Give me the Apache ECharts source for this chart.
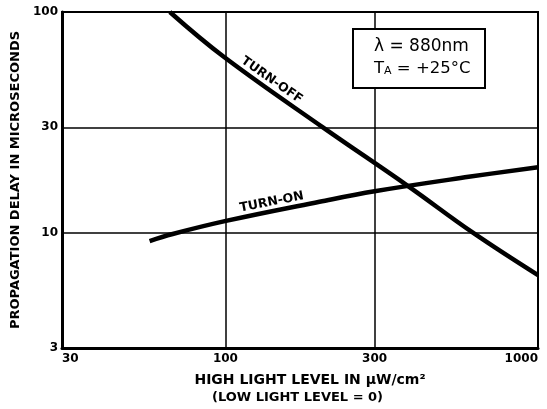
<!DOCTYPE html>
<html>
<head>
<meta charset="utf-8">
<script src="https://cdn.jsdelivr.net/npm/echarts@6/dist/echarts.min.js"></script>
<style>
html,body{margin:0;padding:0;background:#fff;}
#chart{width:547px;height:409px;}
</style>
</head>
<body>
<div id="chart"></div>
<script>
// Data (log-log axes)
const xTicks = [30, 100, 300, 1000];
const yTicks = [3, 10, 30, 100];
const turnOffX = [66.4, 99, 205, 383, 619, 1000];
const turnOffY = [100, 62.5, 30, 16.3, 10, 6.42];
const turnOnX = [57.2, 67.8, 100.4, 200, 300, 600, 1000];
const turnOnY = [9.16, 9.86, 11.3, 13.8, 15.4, 17.9, 19.8];
const curveLabels = [
  {name: 'TURN-OFF', x: 140.6, y: 49.1, rotate: -35},
  {name: 'TURN-ON', x: 140.6, y: 13.75, rotate: 11}
];
const xTitle = 'HIGH LIGHT LEVEL IN \u03BCW/cm\u00B2';
const xSubTitle = '(LOW LIGHT LEVEL = 0)';
const yTitle = 'PROPAGATION DELAY IN MICROSECONDS';
const boxLines = ['\u03BB = 880nm', 'T', 'A', ' = +25\u00B0C'];

const FONT = '"DejaVu Sans", "Liberation Sans", sans-serif';
const zip = (xs, ys) => xs.map((x, i) => [x, ys[i]]);

const chart = echarts.init(document.getElementById('chart'), null, {renderer: 'canvas'});

const labelStyle = {color: '#000', fontFamily: FONT, fontWeight: 'bold', fontSize: 12};

function curveLabel(c) {
  return {
    symbol: 'circle', symbolSize: 0, silent: true,
    data: [{coord: [c.x, c.y], value: c.name,
      label: {show: true, position: 'inside', formatter: c.name, rotate: c.rotate,
        color: '#000', fontFamily: FONT, fontWeight: 'bold', fontSize: 12.5}}]
  };
}

chart.setOption({
  backgroundColor: '#fff',
  animation: false,
  grid: {left: 62, right: 9, top: 12, bottom: 61, show: true, borderColor: '#000', borderWidth: 2, containLabel: false, outerBoundsMode: 'none'},
  xAxis: {
    type: 'log', logBase: 10, min: 30, max: 1000,
    axisLine: {show: true, lineStyle: {color: '#000', width: 3}},
    axisTick: {show: false, customValues: xTicks},
    axisLabel: Object.assign({customValues: xTicks, margin: 5, alignMinLabel: 'left', alignMaxLabel: 'right',
      formatter: v => String(Math.round(v))}, labelStyle),
    splitLine: {show: true, lineStyle: {color: '#000', width: 1.5}},
    name: '{a|' + xTitle + '}\n{b|' + xSubTitle + '}',
    nameLocation: 'middle', nameGap: 24,
    nameTextStyle: {
      color: '#000', fontFamily: FONT, fontWeight: 'bold', fontSize: 13, lineHeight: 17, align: 'center',
      rich: {
        a: {color: '#000', fontFamily: FONT, fontWeight: 'bold', fontSize: 14, lineHeight: 17, padding: [0, 0, 0, 20]},
        b: {color: '#000', fontFamily: FONT, fontWeight: 'bold', fontSize: 13, lineHeight: 17, padding: [0, 5, 0, 0]}
      }
    }
  },
  yAxis: {
    type: 'log', logBase: 10, min: 3, max: 100,
    axisLine: {show: true, lineStyle: {color: '#000', width: 3}},
    axisTick: {show: false, customValues: yTicks},
    axisLabel: Object.assign({customValues: yTicks, margin: 4, formatter: v => String(Math.round(v))}, labelStyle),
    splitLine: {show: true, lineStyle: {color: '#000', width: 1.5}},
    name: yTitle, nameLocation: 'middle', nameGap: 40, nameRotate: 90,
    nameTextStyle: {color: '#000', fontFamily: FONT, fontWeight: 'bold', fontSize: 13}
  },
  series: [
    {
      type: 'line', name: 'TURN-OFF', data: zip(turnOffX, turnOffY), smooth: 0.4,
      showSymbol: false, symbol: 'none', lineStyle: {color: '#000', width: 4.5}, z: 5,
      markPoint: curveLabel(curveLabels[0])
    },
    {
      type: 'line', name: 'TURN-ON', data: zip(turnOnX, turnOnY), smooth: 0.4,
      showSymbol: false, symbol: 'none', lineStyle: {color: '#000', width: 4.5}, z: 5,
      markPoint: curveLabel(curveLabels[1])
    }
  ],
  graphic: [
    {
      type: 'rect', left: 352, top: 28, z: 10,
      shape: {width: 132, height: 59},
      style: {fill: '#fff', stroke: '#000', lineWidth: 2}
    },
    {
      type: 'text', left: 374, top: 38, z: 11,
      style: {text: boxLines[0], fill: '#000', font: '17px ' + FONT}
    },
    {
      type: 'text', left: 374, top: 60, z: 11,
      style: {
        text: '{a|' + boxLines[1] + '}{s|' + boxLines[2] + '}{a|' + boxLines[3] + '}',
        rich: {
          a: {fill: '#000', fontFamily: FONT, fontSize: 16.5},
          s: {fill: '#000', fontFamily: FONT, fontSize: 11, verticalAlign: 'bottom', padding: [6, 0, 0, 0]}
        }
      }
    }
  ]
});
</script>
</body>
</html>
